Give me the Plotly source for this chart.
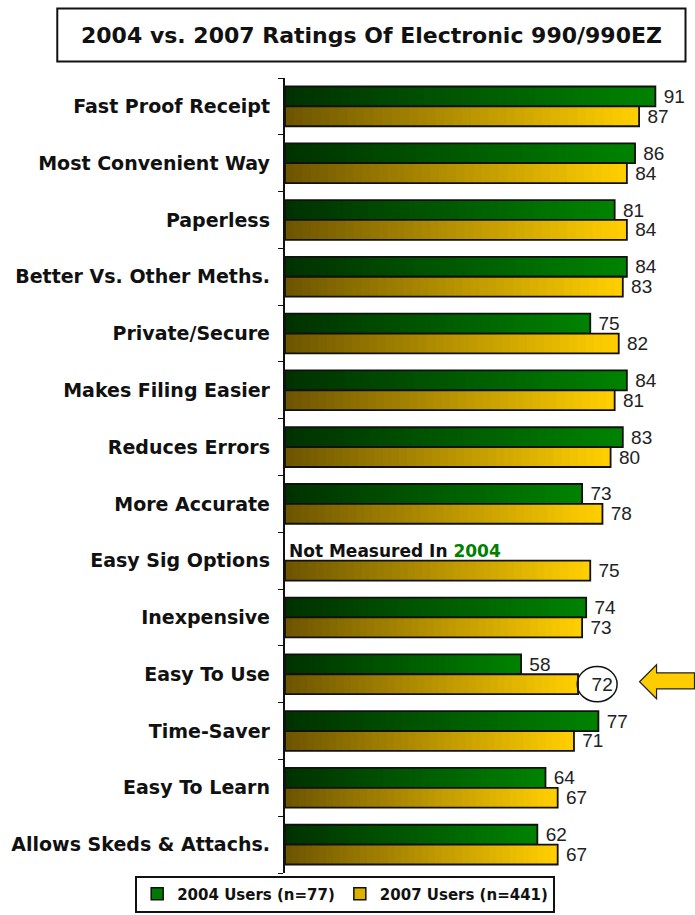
import plotly.graph_objects as go

categories = ["Fast Proof Receipt", "Most Convenient Way", "Paperless",
              "Better Vs. Other Meths.", "Private/Secure", "Makes Filing Easier",
              "Reduces Errors", "More Accurate", "Easy Sig Options", "Inexpensive",
              "Easy To Use", "Time-Saver", "Easy To Learn", "Allows Skeds & Attachs."]
users_2004 = [91, 86, 81, 84, 75, 84, 83, 73, None, 74, 58, 77, 64, 62]
users_2007 = [87, 84, 84, 83, 82, 81, 80, 78, 75, 73, 72, 71, 67, 67]
legend_names = ["2004 Users (n=77)", "2007 Users (n=441)"]
highlight = "Easy To Use"

W, H = 695, 915
L, R, T, B = 285, 2.5, 77.6, 41.6
N_SEG = 40
BAR_W = 0.35


def px_x(p):
    return (p - L) / (W - L - R)


def px_y(p):
    return (H - B - p) / (H - B - T)


def lerp(c0, c1, t):
    return "rgb(%d,%d,%d)" % tuple(round(a + (b - a) * t) for a, b in zip(c0, c1))


def gradient_bar(values, offset, c0, c1):
    ys, xs, bases, cols = [], [], [], []
    for i, v in enumerate(values):
        if v is None:
            continue
        for k in range(N_SEG):
            ys.append(i)
            bases.append(v * k / N_SEG)
            xs.append(v * (1 - k / N_SEG))
            cols.append(lerp(c0, c1, k / (N_SEG - 1)))
    return go.Bar(y=ys, x=xs, base=bases, orientation="h", width=BAR_W, offset=offset,
                  marker=dict(color=cols, line=dict(width=0)), showlegend=False,
                  hoverinfo="skip")


def outline_bar(values, offset, pad_idx=None):
    idx = [i for i, v in enumerate(values) if v is not None]
    texts = [("  " if i == pad_idx else " ") + str(values[i]) for i in idx]
    return go.Bar(y=idx, x=[values[i] for i in idx], orientation="h", width=BAR_W,
                  offset=offset, marker=dict(color="rgba(0,0,0,0)",
                                             line=dict(color="#111", width=1.8)),
                  text=texts, textposition="outside",
                  textfont=dict(family="Liberation Sans, Arial", size=19, color="#222"),
                  cliponaxis=False, constraintext="none", showlegend=False)


green0, green1 = (0, 50, 0), (0, 130, 0)
gold0, gold1 = (110, 86, 0), (255, 206, 0)
use_i = categories.index(highlight)

fig = go.Figure()
fig.add_trace(gradient_bar(users_2004, -BAR_W, green0, green1))
fig.add_trace(outline_bar(users_2004, -BAR_W))
fig.add_trace(gradient_bar(users_2007, 0, gold0, gold1))
fig.add_trace(outline_bar(users_2007, 0, pad_idx=use_i))

# legend entries
fig.add_trace(go.Bar(x=[None], y=[None], name=legend_names[0], orientation="h",
                     marker=dict(color="#007a00", line=dict(color="#111", width=1.5))))
fig.add_trace(go.Bar(x=[None], y=[None], name=legend_names[1], orientation="h",
                     marker=dict(color="#e0b000", line=dict(color="#111", width=1.5))))

n = len(categories)
yrange = [n - 0.5, -0.5]

fig.update_layout(
    width=W, height=H, barmode="overlay",
    margin=dict(l=L, r=R, t=T, b=B, autoexpand=False),
    plot_bgcolor="white", paper_bgcolor="white",
    xaxis=dict(range=[0, 100], visible=False),
    yaxis=dict(range=yrange, tickvals=[i - 0.5 for i in range(n + 1)],
               showticklabels=False, ticks="outside", ticklen=5, tickcolor="#111",
               showline=True, linecolor="#111", linewidth=1.5, showgrid=False,
               zeroline=False),
    yaxis2=dict(range=yrange, overlaying="y", side="left", tickvals=list(range(n)),
                ticktext=categories, ticks="", showline=False, showgrid=False,
                zeroline=False, ticklabelstandoff=14,
                tickfont=dict(family="DejaVu Sans", size=19, color="#111", weight="bold")),
    showlegend=True,
    legend=dict(orientation="h", x=px_x(135), xanchor="left", y=px_y(876),
                yanchor="top", bordercolor="#111", borderwidth=2,
                font=dict(family="DejaVu Sans", size=15, color="#111", weight="bold"),
                traceorder="normal"),
)

# dummy trace to activate yaxis2 labels
fig.add_trace(go.Scatter(x=[None], y=[None], yaxis="y2", showlegend=False))

# title box
fig.add_shape(type="rect", xref="paper", yref="paper", x0=px_x(57), x1=px_x(686),
              y0=px_y(61), y1=px_y(8), line=dict(color="#111", width=2),
              fillcolor="white")
fig.add_annotation(text="<b>2004 vs. 2007 Ratings Of Electronic 990/990EZ</b>",
                   xref="paper", yref="paper", x=px_x(372), y=px_y(35),
                   xanchor="center", yanchor="middle",
                   showarrow=False, font=dict(family="DejaVu Sans", size=22, color="#111"))

# not measured note
sig_i = categories.index("Easy Sig Options")
fig.add_annotation(text="<b>Not Measured In <span style='color:#008000'>2004</span></b>",
                   x=0.5, y=sig_i - BAR_W / 2, xanchor="left", showarrow=False,
                   font=dict(family="DejaVu Sans", size=17, color="#111"))

# highlight on Easy To Use 2007
v = users_2007[use_i]
fig.add_shape(type="circle", x0=v - 0.2, x1=v + 9.6, y0=use_i + BAR_W / 2 - 0.31,
              y1=use_i + BAR_W / 2 + 0.31, line=dict(color="#111", width=1.5))

# arrow pointing at highlight
ax = [px_x(p) for p in (640, 657, 695)]
ay = [px_y(p) for p in (665, 673, 682, 689, 699)]
arrow = (f"M {ax[0]} {ay[2]} L {ax[1]} {ay[0]} L {ax[1]} {ay[1]} L {ax[2]} {ay[1]} "
         f"L {ax[2]} {ay[3]} L {ax[1]} {ay[3]} L {ax[1]} {ay[4]} Z")
fig.add_shape(type="path", xref="paper", yref="paper", path=arrow,
              fillcolor="#ffcc00", line=dict(color="#222", width=1.2))

fig.write_html("out.html", config={"displayModeBar": False},
               post_script="document.body.style.margin='0';")
